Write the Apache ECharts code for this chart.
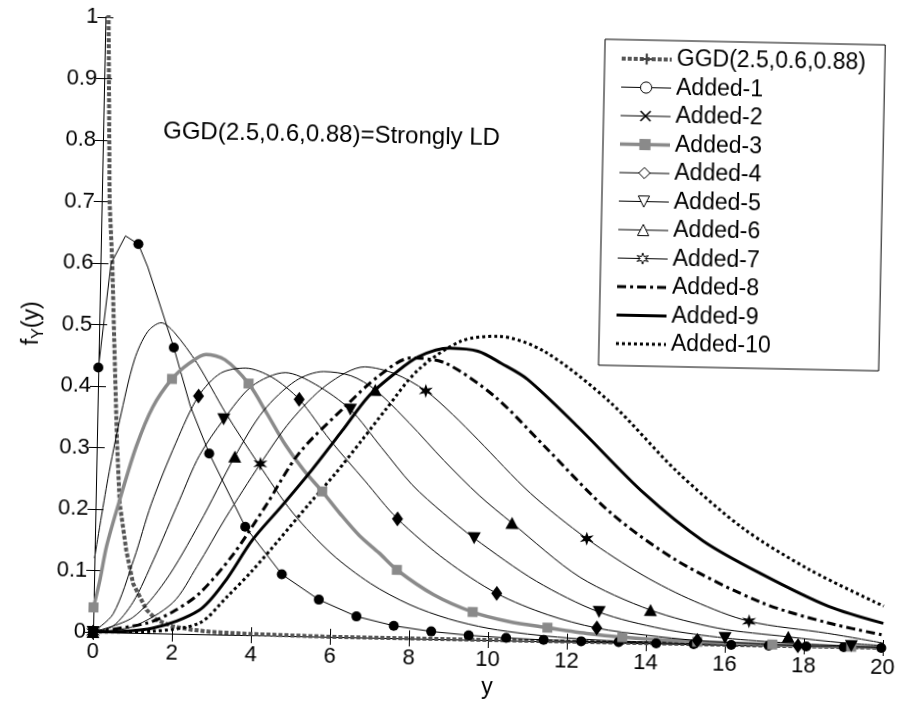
<!DOCTYPE html>
<html><head><meta charset="utf-8">
<script src="https://cdn.jsdelivr.net/npm/echarts/dist/echarts.min.js"></script>
<style>
html,body{margin:0;padding:0;background:#fff;overflow:hidden;}
#c{width:899px;height:705px;transform:rotate(1.16deg);transform-origin:93px 632px;background:#fff;}
</style>
</head><body><div id="c"></div>
<script>
// ---- data ----
const seriesNames = ['GGD(2.5,0.6,0.88)','Added-1','Added-2','Added-3','Added-4','Added-5','Added-6','Added-7','Added-8','Added-9','Added-10'];
const xTickValues = [0,2,4,6,8,10,12,14,16,18,20];
const annotation = 'GGD(2.5,0.6,0.88)=Strongly LD';

const ggdX = [0, 0.03, 0.08, 0.12, 0.2, 0.3, 0.37, 0.45, 0.51, 0.61, 0.8, 0.99, 1.34, 1.6, 2.0, 2.5, 3.0, 4.0, 5.0, 6.0, 8.0, 10, 12, 14, 16, 18, 20];
const ggdY = [1.6, 1.4, 1.0, 0.90, 0.70, 0.60, 0.50, 0.39, 0.31, 0.21, 0.134, 0.08, 0.038, 0.022, 0.012, 0.007, 0.004, 0.002, 0.001, 0, 0, 0, 0, 0, 0, 0, 0];

const a1X = [0, 0.27, 0.62, 0.95, 1.2, 1.9, 2.35, 2.85, 3.8, 4.75, 5.7, 6.66, 7.61, 8.56, 9.51, 10.46, 11.41, 12.36, 13.31, 14.26, 15.21, 16.16, 17.11, 18.06, 19.01, 19.96];
const a1Y = [0.43, 0.60, 0.645, 0.632, 0.595, 0.465, 0.37, 0.294, 0.176, 0.10, 0.06, 0.034, 0.02, 0.012, 0.007, 0.004, 0.002, 0.001, 0.001, 0, 0, 0, 0, 0, 0, 0];
const a1Marks = [0, 0.95, 1.9, 2.85, 3.8, 4.75, 5.7, 6.66, 7.61, 8.56, 9.51, 10.46, 11.41, 12.36, 13.31, 14.26, 15.21, 16.16, 17.11, 18.06, 19.01, 19.96];

const a2X = [0, 0.3, 0.57, 0.91, 1.23, 1.57, 1.9, 2.5, 3.25, 4.1, 5.0, 6.0, 7.0, 8.0, 9.0, 10, 11, 12, 13, 14, 16, 18, 20];
const a2Y = [0.12, 0.25, 0.346, 0.444, 0.49, 0.505, 0.49, 0.44, 0.36, 0.279, 0.20, 0.135, 0.088, 0.055, 0.033, 0.019, 0.011, 0.006, 0.003, 0.002, 0.001, 0, 0];
const a2Marks = [];

const a3X = [0, 0.15, 0.3, 0.61, 1.0, 1.4, 1.87, 2.3, 2.72, 3.2, 3.81, 4.3, 4.78, 5.25, 5.73, 6.2, 6.7, 7.2, 7.66, 8.6, 9.6, 10.5, 11.5, 12.5, 13.4, 14.4, 15.3, 16.3, 17.2, 18.2, 19.2, 20];
const a3Y = [0.04, 0.085, 0.14, 0.216, 0.303, 0.368, 0.414, 0.44, 0.455, 0.447, 0.409, 0.36, 0.31, 0.27, 0.236, 0.2, 0.165, 0.138, 0.111, 0.072, 0.045, 0.031, 0.022, 0.014, 0.009, 0.006, 0.004, 0.003, 0.002, 0.001, 0.001, 0.001];
const a3Marks = [0, 1.87, 3.81, 5.73, 7.66, 9.6, 11.5, 13.4, 15.3, 17.2, 19.2];

const a4X = [0, 0.5, 1.0, 1.41, 2.0, 2.55, 3.1, 3.73, 4.4, 5.1, 5.9, 6.8, 7.65, 8.9, 10.2, 11.5, 12.75, 14, 15.3, 16.6, 17.85, 19, 20];
const a4Y = [0, 0.03, 0.12, 0.21, 0.31, 0.387, 0.425, 0.434, 0.42, 0.385, 0.32, 0.255, 0.194, 0.128, 0.076, 0.043, 0.023, 0.013, 0.006, 0.003, 0.001, 0, 0];
const a4Marks = [0, 2.55, 5.1, 7.65, 10.2, 12.75, 15.3, 17.85];

const a5X = [0, 0.5, 1.0, 1.5, 2.12, 2.6, 3.2, 3.9, 4.74, 5.5, 6.4, 7.2, 8.0, 8.8, 9.6, 11.2, 12.8, 14.4, 16.0, 17.6, 19.2, 20];
const a5Y = [0, 0.01, 0.05, 0.12, 0.217, 0.29, 0.35, 0.405, 0.428, 0.41, 0.37, 0.31, 0.25, 0.205, 0.165, 0.097, 0.049, 0.024, 0.011, 0.005, 0.002, 0.001];
const a5Marks = [0, 3.2, 6.4, 9.6, 12.8, 16.0, 19.2];

const a6X = [0, 1.0, 1.8, 2.64, 3.5, 4.2, 5.0, 5.71, 6.4, 7.02, 7.9, 8.8, 9.7, 10.55, 12.3, 14.1, 15.8, 17.6, 19, 20];
const a6Y = [0, 0.025, 0.085, 0.18, 0.29, 0.365, 0.415, 0.431, 0.425, 0.403, 0.35, 0.29, 0.235, 0.191, 0.105, 0.054, 0.027, 0.015, 0.007, 0.004];
const a6Marks = [0, 3.5, 7.02, 10.55, 14.1, 17.6];

const a7X = [0, 1.0, 2.0, 2.6, 3.3, 4.15, 4.9, 5.8, 6.75, 7.5, 8.3, 9.0, 9.65, 11.0, 12.45, 13.9, 15.2, 16.6, 18.6, 20];
const a7Y = [0, 0.01, 0.05, 0.11, 0.19, 0.279, 0.35, 0.41, 0.44, 0.43, 0.403, 0.365, 0.325, 0.24, 0.168, 0.11, 0.07, 0.039, 0.022, 0.008];
const a7Marks = [0, 4.15, 8.3, 12.45, 16.6];

const a8X = [0, 1.35, 2.0, 2.67, 3.5, 4.3, 5.12, 6.27, 7.09, 7.92, 8.77, 10.05, 11.33, 13.04, 14.75, 16.9, 18.6, 20];
const a8Y = [0, 0.016, 0.035, 0.066, 0.13, 0.21, 0.297, 0.375, 0.425, 0.456, 0.449, 0.396, 0.317, 0.211, 0.135, 0.070, 0.039, 0.021];

const a9X = [0, 1.5, 2.68, 3.3, 3.99, 4.7, 5.46, 6.2, 6.85, 7.5, 8.09, 8.88, 9.6, 10.2, 10.87, 12.16, 13.87, 15.4, 16.9, 18.6, 20];
const a9Y = [0, 0.008, 0.039, 0.085, 0.155, 0.21, 0.271, 0.335, 0.392, 0.43, 0.458, 0.473, 0.469, 0.45, 0.425, 0.35, 0.244, 0.168, 0.116, 0.066, 0.040];

const a10X = [0, 1.5, 2.69, 3.35, 4.0, 4.66, 5.4, 6.06, 6.7, 7.28, 8.1, 9.17, 10.1, 11.28, 12.98, 14.7, 16.4, 18.1, 20];
const a10Y = [0, 0.003, 0.018, 0.06, 0.105, 0.156, 0.215, 0.266, 0.32, 0.37, 0.437, 0.485, 0.494, 0.471, 0.39, 0.28, 0.19, 0.125, 0.068];

// ---- build ----
const STAR = 'path://M10,0 L12,6.54 L18.66,5 L14,10 L18.66,15 L12,13.46 L10,20 L8,13.46 L1.34,15 L6,10 L1.34,5 L8,6.54 Z';
const XMARK = 'path://M0,1L1,0L5,4L9,0L10,1L6,5L10,9L9,10L5,6L1,10L0,9L4,5Z';
const PLUS = 'path://M4,0H6V4H10V6H6V10H4V6H0V4H4Z';
const DOWNTRI = 'path://M0,0L10,0L5,9Z';

function pts(xs, ys, marks) {
  return xs.map((x, i) => {
    const m = marks.some(v => Math.abs(v - x) < 1e-9);
    return m ? { value: [x, ys[i]] } : { value: [x, ys[i]], symbol: 'none' };
  });
}
function mk(name, xs, ys, marks, opt) {
  return Object.assign({
    name: name, type: 'line', data: pts(xs, ys, marks),
    showAllSymbol: true, clip: true, smooth: 0.3,
    symbol: 'none', symbolSize: 10,
    itemStyle: { color: '#000' },
    lineStyle: { color: '#000', width: 1 },
    emphasis: { disabled: true }, animation: false
  }, opt);
}

const LS = {
  ggd: { color: '#555', width: 4, type: [4, 2] },
  a3: { color: '#8a8a8a', width: 3.5 },
  a8: { color: '#000', width: 3, type: [9, 4, 3, 4] },
  a9: { color: '#000', width: 3 },
  a10: { color: '#000', width: 3, type: [3, 3] }
};

const series = [
  mk(seriesNames[0], ggdX, ggdY, [], { smooth: false, symbol: PLUS, itemStyle: { color: '#444' }, lineStyle: LS.ggd }),
  mk(seriesNames[1], a1X, a1Y, a1Marks, { smooth: false, symbol: 'circle', symbolSize: 10 }),
  mk(seriesNames[2], a2X, a2Y, a2Marks, { symbol: XMARK, symbolSize: 8 }),
  mk(seriesNames[3], a3X, a3Y, a3Marks, { symbol: 'rect', symbolSize: 10, itemStyle: { color: '#8a8a8a' }, lineStyle: LS.a3 }),
  mk(seriesNames[4], a4X, a4Y, a4Marks, { symbol: 'diamond', symbolSize: [11, 15] }),
  mk(seriesNames[5], a5X, a5Y, a5Marks, { symbol: DOWNTRI, symbolSize: [13, 12] }),
  mk(seriesNames[6], a6X, a6Y, a6Marks, { symbol: 'triangle', symbolSize: [13, 12] }),
  mk(seriesNames[7], a7X, a7Y, a7Marks, { symbol: STAR, symbolSize: 14 }),
  mk(seriesNames[8], a8X, a8Y, [], { lineStyle: LS.a8 }),
  mk(seriesNames[9], a9X, a9Y, [], { lineStyle: LS.a9 }),
  mk(seriesNames[10], a10X, a10Y, [], { lineStyle: LS.a10 })
];

const hollow = { color: '#fff', borderColor: '#000', borderWidth: 1 };
const legendData = seriesNames.map((n, i) => {
  if ([1, 4, 5, 6, 7].includes(i)) return { name: n, itemStyle: hollow };
  if (i === 2) return { name: n, itemStyle: { color: '#000', borderWidth: 0 } };
  if ([8, 9, 10].includes(i)) return { name: n, itemStyle: { opacity: 0 } };
  if (i === 0) return { name: n, itemStyle: { color: '#444', borderWidth: 0 } };
  return { name: n, itemStyle: { color: '#8a8a8a', borderWidth: 0 } };
});

const FONT = 'Liberation Sans, Arial, Helvetica, sans-serif';
const chart = echarts.init(document.getElementById('c'), null, { renderer: 'canvas' });
chart.setOption({
  backgroundColor: '#fff',
  animation: false,
  textStyle: { fontFamily: FONT, color: '#000' },
  grid: { left: 93, right: 16, top: 17, bottom: 73, containLabel: false },
  legend: {
    data: legendData, orient: 'vertical', left: 593, top: 29,
    padding: [7, 19, 10, 15], itemGap: 4.5, itemWidth: 50, itemHeight: 14,
    borderColor: '#000', borderWidth: 1, backgroundColor: '#fff',
    lineStyle: { width: 'inherit', type: 'inherit', color: 'inherit' },
    textStyle: { fontFamily: FONT, fontSize: 23, color: '#000', lineHeight: 24 },
    selectedMode: false
  },
  xAxis: [{
    type: 'value', min: 0, max: 20, interval: 2,
    name: 'y', nameLocation: 'middle', nameGap: 36,
    nameTextStyle: { fontFamily: FONT, fontSize: 23, color: '#000' },
    axisLine: { show: true, lineStyle: { color: '#000', width: 1 } },
    axisTick: { show: true, inside: true, length: 8, lineStyle: { color: '#000' } },
    axisLabel: { fontFamily: FONT, fontSize: 22, color: '#000', margin: 9,
      formatter: v => xTickValues.includes(v) ? String(v) : '' },
    splitLine: { show: false }
  }, {
    type: 'value', min: 0, max: 20, interval: 2, position: 'top',
    axisLine: { show: true, lineStyle: { color: '#000', width: 1 } },
    axisTick: { show: true, inside: true, length: 8, lineStyle: { color: '#000' } },
    axisLabel: { show: false }, splitLine: { show: false }
  }],
  yAxis: [{
    type: 'value', min: 0, max: 1, interval: 0.1,
    name: '{a|f}{b|Y}{a|(y)}', nameLocation: 'middle', nameGap: 52, nameRotate: 90,
    nameTextStyle: { fontFamily: FONT, color: '#000',
      rich: { a: { fontFamily: FONT, fontSize: 23, color: '#000', lineHeight: 30, verticalAlign: 'middle' },
              b: { fontFamily: FONT, fontSize: 16, color: '#000', lineHeight: 30, verticalAlign: 'bottom', padding: [10, 0, 0, 0] } } },
    axisLine: { show: true, lineStyle: { color: '#000', width: 1 } },
    axisTick: { show: true, inside: true, length: 8, lineStyle: { color: '#000' } },
    axisLabel: { fontFamily: FONT, fontSize: 22, color: '#000', margin: 7,
      formatter: v => (v === 0 ? '0' : v === 1 ? '1' : v.toFixed(1)) },
    splitLine: { show: false }
  }, {
    type: 'value', min: 0, max: 1, interval: 0.1, position: 'right',
    axisLine: { show: true, lineStyle: { color: '#000', width: 1 } },
    axisTick: { show: true, inside: true, length: 8, lineStyle: { color: '#000' } },
    axisLabel: { show: false }, splitLine: { show: false }
  }],
  graphic: [{
    type: 'text', left: 153, top: 118, silent: true,
    style: { text: annotation, fontFamily: FONT, fontSize: 24, fill: '#000' }
  }],
  series: series
});
</script></body></html>
